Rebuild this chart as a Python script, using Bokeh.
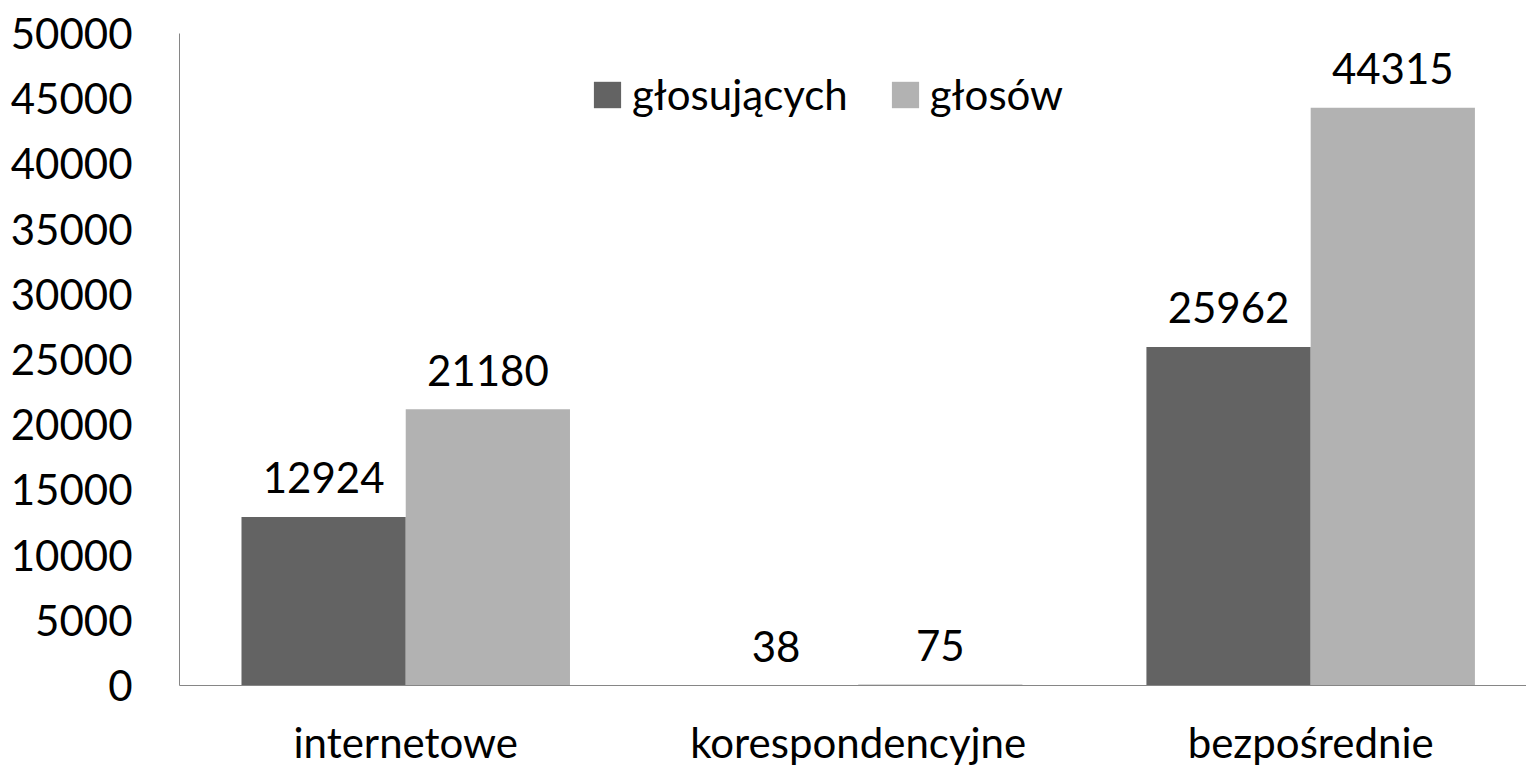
from bokeh.plotting import figure
from bokeh.models import ColumnDataSource, Range1d, FixedTicker, Legend, LegendItem
from bokeh.core.properties import value
from bokeh.embed import file_html
from bokeh.resources import INLINE

categories = ["internetowe", "korespondencyjne", "bezpośrednie"]
series_names = ["głosujących", "głosów"]
glosujacych = [12924, 38, 25962]
glosow = [21180, 75, 44315]
y_ticks = [0, 5000, 10000, 15000, 20000, 25000, 30000, 35000, 40000, 45000, 50000]

FONT = "Lato"
FS = "42px"
DARK = "#636363"
LIGHT = "#b2b2b2"
BW = 0.363
OFF = BW / 2

idx = [i + 0.5 for i in range(len(categories))]

p = figure(width=1526, height=769, output_backend="svg", toolbar_location=None,
           x_range=Range1d(0, 2.977), y_range=Range1d(0, 50000),
           min_border_left=179, min_border_top=33, min_border_bottom=84, min_border_right=0)
p.outline_line_color = None
p.xgrid.visible = False
p.ygrid.visible = False

src1 = ColumnDataSource(dict(x=[c - OFF for c in idx], top=glosujacych, lab=[str(v) for v in glosujacych]))
src2 = ColumnDataSource(dict(x=[c + OFF for c in idx], top=glosow, lab=[str(v) for v in glosow]))

r1 = p.vbar(x="x", top="top", width=BW, bottom=0, source=src1, fill_color=DARK, line_color=None)
r2 = p.vbar(x="x", top="top", width=BW, bottom=0, source=src2, fill_color=LIGHT, line_color=None)

for s in (src1, src2):
    p.text(x="x", y="top", text="lab", source=s, text_align="center", text_baseline="alphabetic",
           y_offset=-39, text_font=value(FONT), text_font_size=FS, text_color="black")

# axes
p.yaxis.ticker = FixedTicker(ticks=y_ticks)
p.yaxis.major_tick_line_color = None
p.yaxis.minor_tick_line_color = None
p.yaxis.major_tick_out = 0
p.yaxis.major_label_standoff = 47
p.yaxis.axis_line_color = "#868686"
p.yaxis.major_label_text_font = FONT
p.yaxis.major_label_text_font_size = FS
p.yaxis.major_label_text_color = "black"

p.xaxis.ticker = FixedTicker(ticks=idx)
p.xaxis.major_label_overrides = {c: n for c, n in zip(idx, categories)}
p.xaxis.major_tick_line_color = None
p.xaxis.minor_tick_line_color = None
p.xaxis.major_tick_out = 0
p.xaxis.major_label_standoff = 31
p.xaxis.axis_line_color = "#868686"
p.xaxis.major_label_text_font = FONT
p.xaxis.major_label_text_font_size = FS
p.xaxis.major_label_text_color = "black"

legend = Legend(items=[LegendItem(label=series_names[0], renderers=[r1]),
                       LegendItem(label=series_names[1], renderers=[r2])],
                orientation="horizontal", location=(411, 566),
                glyph_width=34, glyph_height=33, label_standoff=8, spacing=40,
                padding=0, margin=0, border_line_color=None, background_fill_alpha=0,
                label_text_font=FONT, label_text_font_size=FS, label_text_color="black")
p.add_layout(legend, "center")

open("out.html", "w").write(file_html(p, INLINE))
